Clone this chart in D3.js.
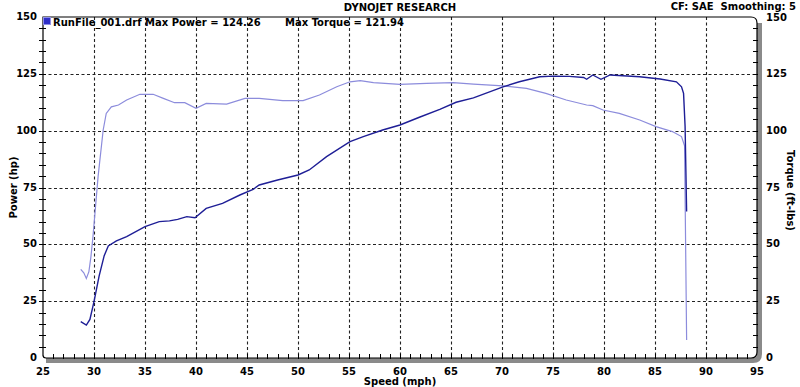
<!DOCTYPE html>
<html>
<head>
<meta charset="utf-8">
<script src="https://cdn.jsdelivr.net/npm/d3@7"></script>
<style>
  body { margin: 0; background: #fff; }
  svg text { font-family: "DejaVu Sans", Verdana, sans-serif; font-weight: bold; fill: #000; white-space: pre; }
</style>
</head>
<body>
<svg id="chart"></svg>
<script>
// power curve (hp) vs speed (mph)
const powerSpeed = [28.7, 29.25, 29.6, 30.0, 30.5, 31.0, 31.4, 32.2, 33.2, 35.0, 36.4, 37.4, 38.2, 39.1, 39.9,
  41.0, 42.6, 44.3, 45.6, 46.2, 48.0, 50.0, 51.1, 52.8, 55.1, 56.4, 58.3, 60.0, 61.9, 63.9, 65.5, 67.2,
  70.1, 71.7, 73.7, 75.0, 76.6, 78.0, 78.3, 78.9, 79.7, 80.6, 83.5, 85.5, 87.1, 87.6, 87.8, 87.95, 88.1];
const powerHp = [16.0, 14.5, 17.0, 24.8, 36.0, 45.0, 49.3, 51.5, 53.4, 57.8, 60.0, 60.3, 61.0, 62.2, 61.7,
  65.8, 68.0, 71.7, 74.2, 76.1, 78.3, 80.5, 82.7, 88.6, 95.2, 97.4, 100.3, 102.5, 105.9, 109.4, 112.5, 114.4,
  119.3, 121.5, 123.7, 124.0, 123.9, 123.4, 122.6, 124.5, 122.6, 124.5, 123.7, 122.7, 121.5, 119.3, 116.4, 101.8, 64.4];

// torque curve (ft-lbs) vs speed (mph)
const torqueSpeed = [28.7, 29.0, 29.25, 29.5, 29.7, 29.9, 30.4, 30.9, 31.2, 31.7, 32.4, 33.2, 34.5, 35.8, 36.8,
  37.9, 38.9, 40.0, 41.0, 43.0, 44.8, 46.2, 48.5, 50.5, 52.1, 53.8, 55.1, 56.1, 57.4, 60.0, 62.6, 65.2,
  67.2, 70.1, 72.4, 74.3, 76.3, 78.3, 78.9, 79.9, 81.5, 83.5, 85.1, 86.7, 87.6, 87.9, 88.1];
const torqueFtLbs = [39.0, 37.5, 35.0, 38.0, 44.6, 53.4, 79.8, 100.3, 107.6, 110.5, 111.3, 113.5, 116.0, 116.0, 114.2,
  112.3, 112.3, 109.8, 112.0, 111.7, 114.2, 114.2, 113.2, 113.2, 115.7, 119.3, 121.5, 122.0, 121.1, 120.4, 120.8, 121.1,
  120.5, 119.7, 118.6, 116.4, 113.5, 111.3, 111.0, 109.1, 107.6, 104.7, 101.8, 99.6, 97.4, 93.3, 7.9];

const xTicks = [25, 30, 35, 40, 45, 50, 55, 60, 65, 70, 75, 80, 85, 90, 95];
const yTicks = [0, 25, 50, 75, 100, 125, 150];

const W = 800, H = 387;
const margin = {top: 17, right: 43, bottom: 29, left: 43};

const svg = d3.select('#chart').attr('width', W).attr('height', H);

const x = d3.scaleLinear().domain([25, 95]).range([margin.left, W - margin.right]);
const y = d3.scaleLinear().domain([0, 150]).range([H - margin.bottom, margin.top]);

const x0 = x(25), x1 = x(95), y0 = y(0), y1 = y(150);

// grid
const grid = svg.append('g').attr('stroke', '#222').attr('stroke-width', 1.1).attr('stroke-dasharray', '3,2.5');
grid.selectAll('line.v').data(xTicks.slice(1, -1)).join('line')
  .attr('x1', d => Math.round(x(d)) + 0.5).attr('x2', d => Math.round(x(d)) + 0.5)
  .attr('y1', y1).attr('y2', y0);
grid.selectAll('line.h').data(yTicks.slice(1, -1)).join('line')
  .attr('y1', d => Math.round(y(d)) + 0.5).attr('y2', d => Math.round(y(d)) + 0.5)
  .attr('x1', x0).attr('x2', x1);

// frame: grey shadow on right/bottom, then black outline
const r = 6;
svg.append('path')
  .attr('d', `M${x0 + 3},${y0 + 2.5} L${x1 - r + 2},${y0 + 2.5} Q${x1 + 2.5},${y0 + 2.5} ${x1 + 2.5},${y0 - r + 2} L${x1 + 2.5},${y1 + r}`)
  .attr('fill', 'none').attr('stroke', '#8a8a8a').attr('stroke-width', 5);
svg.append('path')
  .attr('d', `M${x0},${y0 - 2} L${x0},${y1} L${x1 - r},${y1} Q${x1},${y1} ${x1},${y1 + r} L${x1},${y0 - r} Q${x1},${y0} ${x1 - r},${y0} L${x0 + 3},${y0} Q${x0},${y0} ${x0},${y0 - 3}`)
  .attr('fill', 'none').attr('stroke', '#000').attr('stroke-width', 1.2);

// minor ticks
const ticks = svg.append('g').attr('stroke', '#000').attr('stroke-width', 1);
ticks.selectAll('line.bx').data(d3.range(26, 95, 1)).join('line')
  .attr('x1', d => Math.round(x(d)) + 0.5).attr('x2', d => Math.round(x(d)) + 0.5)
  .attr('y1', y0 - 4).attr('y2', y0 + 1);
ticks.selectAll('line.ly').data(d3.range(5, 150, 5)).join('line')
  .attr('y1', d => Math.round(y(d)) + 0.5).attr('y2', d => Math.round(y(d)) + 0.5)
  .attr('x1', x0 - 4).attr('x2', x0 + 3);
ticks.selectAll('line.ry').data(d3.range(5, 150, 5)).join('line')
  .attr('y1', d => Math.round(y(d)) + 0.5).attr('y2', d => Math.round(y(d)) + 0.5)
  .attr('x1', x1 - 4).attr('x2', x1 + 1);

// tick labels
svg.append('g').selectAll('text').data(xTicks).join('text')
  .attr('x', d => x(d)).attr('y', y0 + 17).attr('text-anchor', 'middle')
  .attr('font-size', 10).text(d => d);
svg.append('g').selectAll('text').data(yTicks).join('text')
  .attr('x', x0 - 6).attr('y', d => y(d) + 3).attr('text-anchor', 'end')
  .attr('font-size', 10).text(d => d);
svg.append('g').selectAll('text').data(yTicks).join('text')
  .attr('x', x1 + 9).attr('y', d => y(d) + (d === 150 ? 4 : 3)).attr('text-anchor', 'start')
  .attr('font-size', 10).text(d => d);

// axis titles
svg.append('text').attr('x', (x0 + x1) / 2).attr('y', H - 2).attr('text-anchor', 'middle')
  .attr('font-size', 10).text('Speed (mph)');
svg.append('text').attr('transform', `translate(17,${(y0 + y1) / 2}) rotate(-90)`)
  .attr('text-anchor', 'middle').attr('font-size', 10).text('Power (hp)');
svg.append('text').attr('transform', `translate(787,${(y0 + y1) / 2 + 3}) rotate(90)`)
  .attr('text-anchor', 'middle').attr('font-size', 10).text('Torque (ft-lbs)');

// header texts
svg.append('text').attr('x', 400).attr('y', 11).attr('text-anchor', 'middle')
  .attr('font-size', 10).text('DYNOJET RESEARCH');
svg.append('text').attr('x', 796).attr('y', 10).attr('text-anchor', 'end')
  .attr('font-size', 10).attr('xml:space', 'preserve').text('CF: SAE  Smoothing: 5');
svg.append('rect').attr('x', x0 + 0.5).attr('y', y1 + 0.5).attr('width', 7).attr('height', 7)
  .attr('fill', '#2f2fc8').attr('stroke', '#8f8fe8');
svg.append('text').attr('x', 53).attr('y', 26).attr('font-size', 10)
  .text('RunFile_001.drf Max Power = 124.26');
svg.append('text').attr('x', 285).attr('y', 26).attr('font-size', 10)
  .text('Max Torque = 121.94');

// curves
const line = d3.line().x(d => x(d[0])).y(d => y(d[1]));
svg.append('path').datum(d3.zip(torqueSpeed, torqueFtLbs))
  .attr('d', line).attr('fill', 'none').attr('stroke', '#8c8cdc').attr('stroke-width', 1.2);
svg.append('path').datum(d3.zip(powerSpeed, powerHp))
  .attr('d', line).attr('fill', 'none').attr('stroke', '#1e1e96').attr('stroke-width', 1.4);
</script>
</body>
</html>
